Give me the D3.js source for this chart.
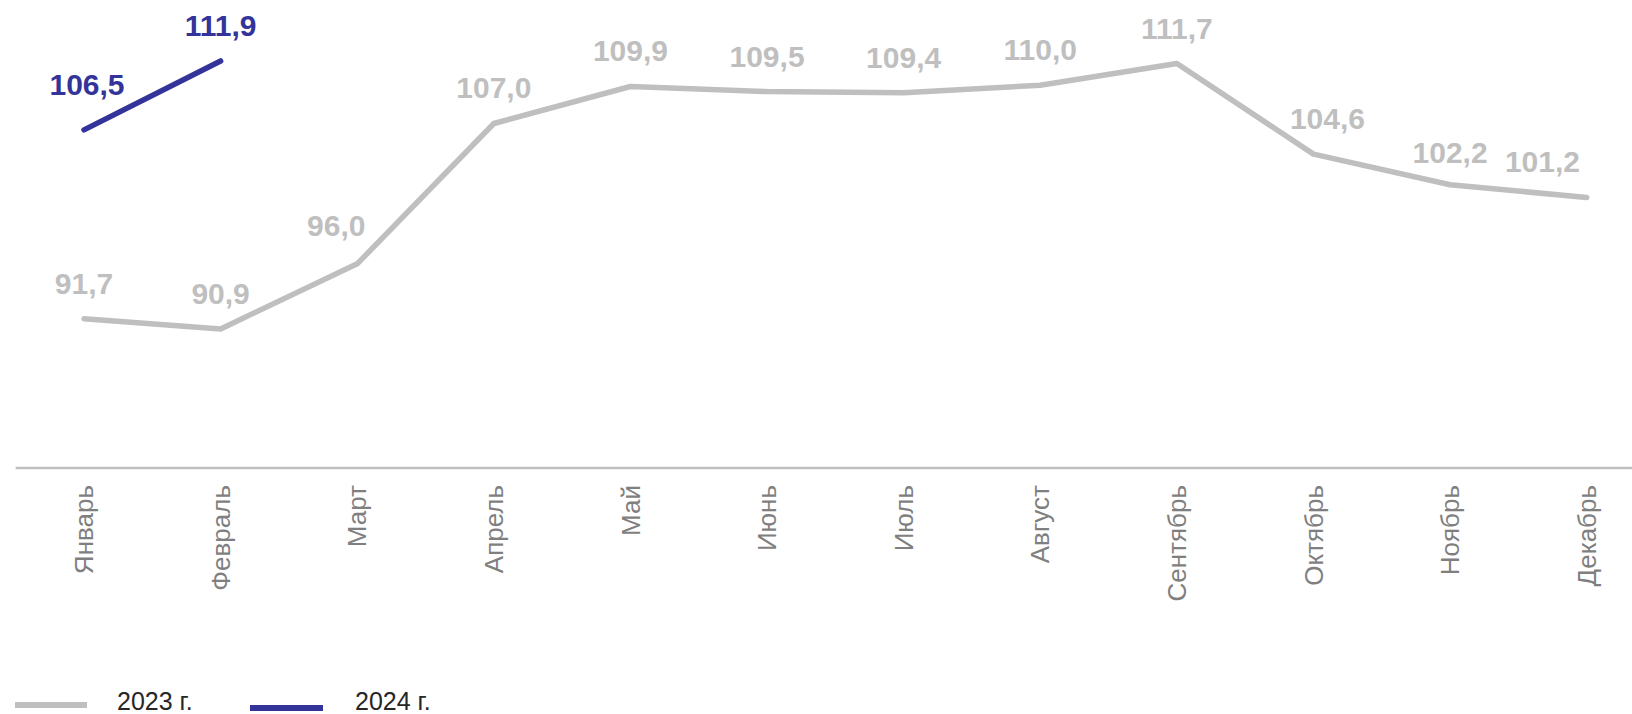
<!DOCTYPE html>
<html>
<head>
<meta charset="utf-8">
<script src="https://cdn.jsdelivr.net/npm/d3@7"></script>
<style>
  html, body { margin: 0; padding: 0; background: #fff; }
  svg { display: block; font-family: "Liberation Sans", Arial, sans-serif; }
</style>
</head>
<body>
<svg id="chart" width="1632" height="714"></svg>
<script>
const categories = ["Январь","Февраль","Март","Апрель","Май","Июнь","Июль","Август","Сентябрь","Октябрь","Ноябрь","Декабрь"];
const values2023 = [91.7, 90.9, 96.0, 107.0, 109.9, 109.5, 109.4, 110.0, 111.7, 104.6, 102.2, 101.2];
const values2024 = [106.5, 111.9];
const seriesNames = ["2023 г.", "2024 г."];
const yDomain = [80, 120];

const W = 1632, H = 714;
const svg = d3.select("#chart");

const x = d3.scaleBand().domain(categories).range([15.7, 1655]).padding(0);
const cx = c => x(c) + x.bandwidth() / 2;
const y = d3.scaleLinear().domain(yDomain).range([468, -42.4]);

const grey = "#bfbfbf", navy = "#333399";

// x axis
const xAxis = d3.axisBottom(x).tickSize(0).tickPadding(0);
const gx = svg.append("g").attr("transform", `translate(0,${y(yDomain[0])})`).call(xAxis);
gx.select(".domain").attr("stroke", grey).attr("stroke-width", 2.5).attr("d", `M15.7,0H${W}`);
gx.selectAll(".tick text")
  .attr("transform", "rotate(-90)")
  .attr("text-anchor", "end")
  .attr("x", -17)
  .attr("y", 0)
  .attr("dy", "0.35em")
  .attr("fill", "#7f7f7f")
  .attr("font-size", 26)
  .attr("font-family", "Liberation Sans, Arial, sans-serif");

const line = d3.line().x(d => cx(d.c)).y(d => y(d.v));
const d23 = values2023.map((v, i) => ({c: categories[i], v}));
const d24 = values2024.map((v, i) => ({c: categories[i], v}));

svg.append("path").datum(d23).attr("d", line)
  .attr("fill", "none").attr("stroke", grey).attr("stroke-width", 5.5)
  .attr("stroke-linecap", "round").attr("stroke-linejoin", "round");
svg.append("path").datum(d24).attr("d", line)
  .attr("fill", "none").attr("stroke", navy).attr("stroke-width", 5.5)
  .attr("stroke-linecap", "round").attr("stroke-linejoin", "round");

const fmt = v => v.toFixed(1).replace(".", ",");

// label nudges (layout only, not data)
function labels(data, color, nudge) {
  const t = svg.append("g").selectAll("text").data(data).join("text")
    .attr("x", (d, i) => cx(d.c) + ((nudge[i] || {}).dx || 0))
    .attr("y", (d, i) => y(d.v) - 25 + ((nudge[i] || {}).dy || 0))
    .attr("text-anchor", "middle")
    .attr("font-size", 30)
    .attr("font-weight", "bold")
    .attr("fill", color)
    .text(d => fmt(d.v));
  t.each(function() {
    const bb = this.getBBox();
    const maxRight = 1580;
    if (bb.x + bb.width > maxRight) {
      d3.select(this).attr("x", +d3.select(this).attr("x") - (bb.x + bb.width - maxRight));
    }
  });
}
labels(d23, grey, {2: {dx: -21, dy: -3}, 9: {dx: 14}, 10: {dy: 3}});
labels(d24, navy, {0: {dx: 3, dy: -10}});

// legend
const legend = svg.append("g");
const items = [
  {name: seriesNames[0], color: grey, x1: 15, x2: 87, ly: 705, tx: 117},
  {name: seriesNames[1], color: navy, x1: 250, x2: 323, ly: 708, tx: 355}
];
items.forEach(it => {
  legend.append("line").attr("x1", it.x1).attr("x2", it.x2).attr("y1", it.ly).attr("y2", it.ly)
    .attr("stroke", it.color).attr("stroke-width", 6);
  legend.append("text").attr("x", it.tx).attr("y", 710)
    .attr("font-size", 25).attr("fill", "#262626").text(it.name);
});
</script>
</body>
</html>
